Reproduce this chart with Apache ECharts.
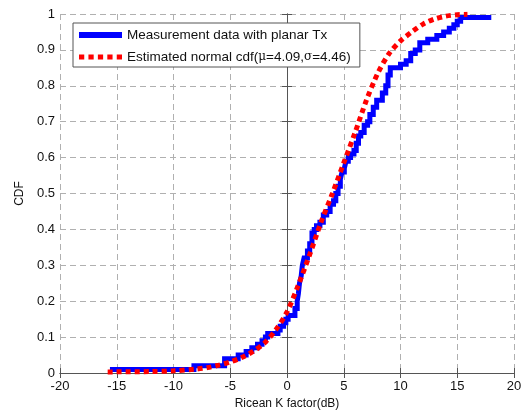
<!DOCTYPE html>
<html>
<head>
<meta charset="utf-8">
<script src="https://cdn.jsdelivr.net/npm/echarts@6/dist/echarts.min.js"></script>
<style>
  html, body { margin: 0; padding: 0; background: #fff; }
  #chart { width: 523px; height: 410px; }
</style>
</head>
<body>
<div id="chart"></div>
<script>
// Empirical CDF of the measured Ricean K factor: [K (dB), cumulative probability] at each step
const measuredSteps = [
  [-15.6, 0.01], [-8.2, 0.02], [-5.5, 0.04], [-4.3, 0.05], [-3.6, 0.06], [-3.1, 0.07],
  [-2.6, 0.08], [-2.2, 0.09], [-1.9, 0.10], [-1.7, 0.11], [-0.8, 0.12], [-0.6, 0.13],
  [-0.3, 0.14], [-0.1, 0.15], [0.1, 0.16], [0.7, 0.18], [0.9, 0.20], [1.0, 0.22],
  [1.1, 0.25], [1.25, 0.27], [1.35, 0.30], [1.5, 0.32], [1.8, 0.34], [2.0, 0.36],
  [2.2, 0.39], [2.4, 0.40], [2.6, 0.41], [2.9, 0.42], [3.2, 0.44], [3.5, 0.45],
  [3.8, 0.47], [4.1, 0.48], [4.3, 0.50], [4.5, 0.52], [4.7, 0.54], [4.85, 0.56],
  [5.05, 0.57], [5.2, 0.59], [5.4, 0.60], [5.6, 0.61], [5.9, 0.62], [6.1, 0.64],
  [6.3, 0.66], [6.5, 0.67], [6.8, 0.69], [7.1, 0.70], [7.3, 0.72], [7.6, 0.74],
  [7.9, 0.76], [8.4, 0.78], [8.7, 0.80], [8.9, 0.83], [9.1, 0.85], [10.0, 0.86],
  [10.5, 0.87], [10.9, 0.89], [11.3, 0.90], [11.7, 0.92], [12.4, 0.93], [13.2, 0.94],
  [13.8, 0.95], [14.3, 0.96], [14.7, 0.97], [15.0, 0.98], [15.3, 0.99], [18.0, 0.99]
];

// Fitted normal CDF curve: [K (dB), probability]
const fittedCurve = [
  [-15.8, 0.003], [-12, 0.004], [-10, 0.006], [-8, 0.011], [-7, 0.015], [-6, 0.022],
  [-5, 0.031], [-4, 0.043], [-3, 0.060], [-2, 0.083], [-1, 0.120], [0, 0.170],
  [1, 0.245], [2, 0.330], [3, 0.420], [4, 0.500], [5, 0.585], [6, 0.670],
  [7, 0.760], [8, 0.835], [9, 0.890], [10, 0.925], [11, 0.950], [12, 0.972],
  [13, 0.986], [14, 0.994], [15, 0.998], [15.9, 0.999]
];

const xTicks = [-20, -15, -10, -5, 0, 5, 10, 15, 20];
const yTicks = [0, 0.1, 0.2, 0.3, 0.4, 0.5, 0.6, 0.7, 0.8, 0.9, 1];

const FONT = '"Liberation Sans", Arial, sans-serif';
const AXIS_COLOR = '#555';
const GRID_COLOR = '#b0b0b0';

const chart = echarts.init(document.getElementById('chart'), null, { renderer: 'canvas' });

const baseX = {
  type: 'value', min: xTicks[0], max: xTicks[xTicks.length - 1], interval: 5
};
const baseY = {
  type: 'value', min: yTicks[0], max: yTicks[yTicks.length - 1], interval: 0.1
};

chart.setOption({
  animation: false,
  backgroundColor: '#fff',
  grid: { left: 60, right: 9, top: 14, bottom: 37, show: false, outerBoundsMode: 'none', containLabel: false },
  legend: {
    orient: 'vertical',
    left: 73, top: 23,
    padding: [5, 9, 3, 6],
    itemGap: 8,
    itemWidth: 43, itemHeight: 6,
    backgroundColor: '#fff',
    borderColor: AXIS_COLOR, borderWidth: 1,
    textStyle: {
      fontFamily: FONT, fontSize: 13.5, color: '#111',
      rich: {
        g: { fontFamily: '"DejaVu Serif", serif', fontSize: 12, color: '#111' }
      }
    },
    formatter: function (name) {
      if (name.indexOf('Estimated') === 0) {
        return 'Estimated normal cdf({g|\u03bc}=4.09,{g|\u03c3}=4.46)';
      }
      return name;
    },
    data: [
      { name: 'Measurement data with planar Tx', icon: 'path://M0,0H43V6H0Z' },
      { name: 'Estimated normal cdf(\u03bc=4.09,\u03c3=4.46)', icon: 'path://M0,0H5V5H0ZM9,0H14V5H9ZM18,0H23V5H18ZM27,0H32V5H27ZM36,0H41V5H36Z' }
    ]
  },
  xAxis: [
    Object.assign({}, baseX, {
      position: 'bottom',
      name: 'Ricean K factor(dB)',
      nameLocation: 'middle',
      nameGap: 19,
      nameTextStyle: { fontFamily: FONT, fontSize: 12, color: '#111' },
      axisLine: { show: true, lineStyle: { color: AXIS_COLOR, width: 1 } },
      axisTick: { show: true, inside: true, length: 5, lineStyle: { color: AXIS_COLOR } },
      axisLabel: { fontFamily: FONT, fontSize: 13, color: '#111', margin: 7 },
      splitLine: { show: true, lineStyle: { color: GRID_COLOR, type: [6, 4], width: 1 } }
    }),
    Object.assign({}, baseX, {
      position: 'top',
      axisLine: { show: true, lineStyle: { color: AXIS_COLOR, width: 1 } },
      axisTick: { show: true, inside: true, length: 5, lineStyle: { color: AXIS_COLOR } },
      axisLabel: { show: false },
      splitLine: { show: false }
    })
  ],
  yAxis: [
    Object.assign({}, baseY, {
      position: 'left',
      name: 'CDF',
      nameLocation: 'middle',
      nameGap: 27,
      nameRotate: 90,
      nameTextStyle: { fontFamily: FONT, fontSize: 12, color: '#111' },
      axisLine: { show: true, lineStyle: { color: AXIS_COLOR, width: 1 } },
      axisTick: { show: true, inside: true, length: 5, lineStyle: { color: AXIS_COLOR } },
      axisLabel: {
        fontFamily: FONT, fontSize: 13, color: '#111', margin: 5,
        formatter: function (v) { return String(Math.round(v * 10) / 10); }
      },
      splitLine: { show: true, lineStyle: { color: GRID_COLOR, type: [6, 4], width: 1 } }
    }),
    Object.assign({}, baseY, {
      position: 'right',
      axisLine: { show: true, lineStyle: { color: AXIS_COLOR, width: 1 } },
      axisTick: { show: true, inside: true, length: 5, lineStyle: { color: AXIS_COLOR } },
      axisLabel: { show: false },
      splitLine: { show: false }
    })
  ],
  series: [
    {
      name: 'Measurement data with planar Tx',
      type: 'line',
      step: 'end',
      data: measuredSteps,
      showSymbol: false,
      symbol: 'none',
      color: '#0000ff',
      lineStyle: { color: '#0000ff', width: 5, cap: 'butt', join: 'miter' },
      z: 3
    },
    {
      name: 'Estimated normal cdf(\u03bc=4.09,\u03c3=4.46)',
      type: 'line',
      data: fittedCurve,
      smooth: 0.3,
      showSymbol: false,
      symbol: 'none',
      color: '#ff0000',
      lineStyle: { color: '#ff0000', width: 5, type: [5, 4], cap: 'butt' },
      z: 4
    }
  ]
});
</script>
</body>
</html>
